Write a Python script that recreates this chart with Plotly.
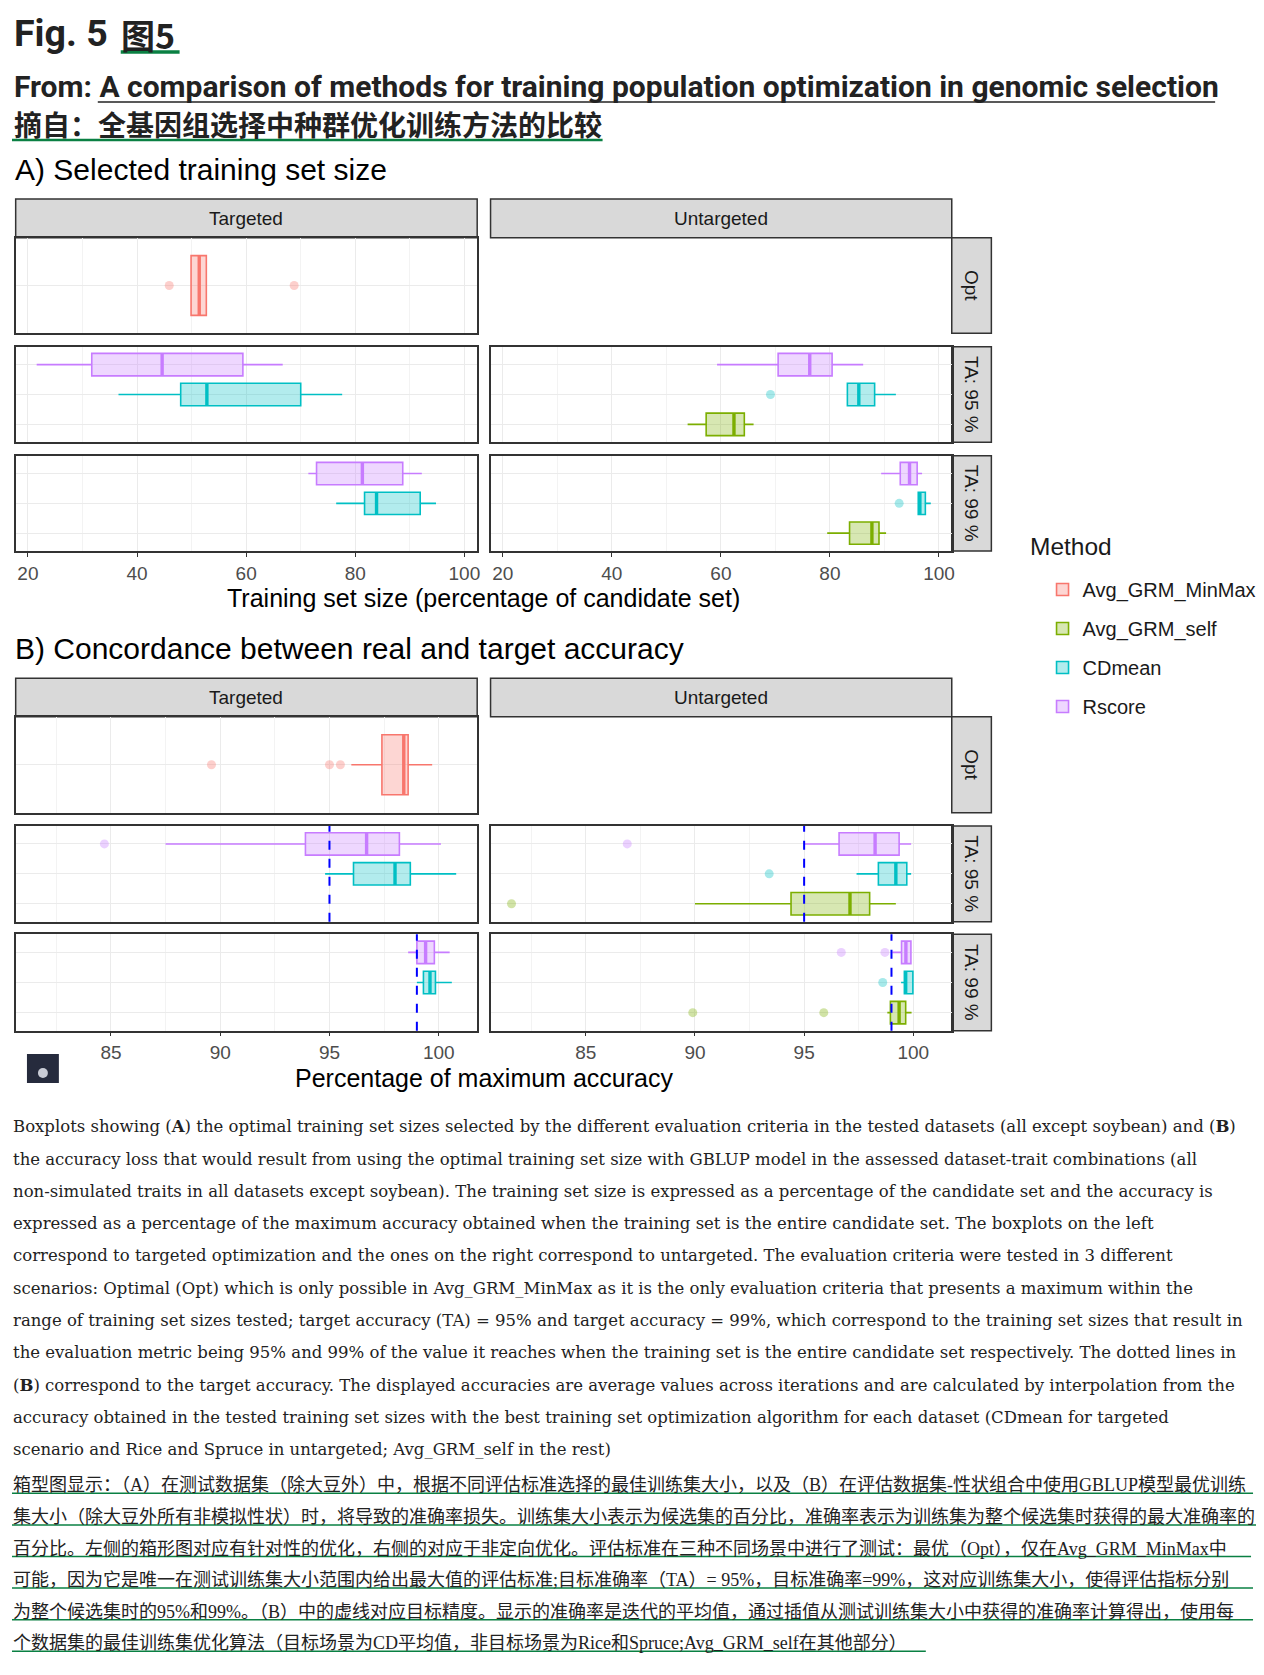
import plotly.graph_objects as go

# ---------------------------------------------------------------------------
# Data
# ---------------------------------------------------------------------------

METHODS = ["Avg_GRM_MinMax", "Avg_GRM_self", "CDmean", "Rscore"]
SIDES = ["Targeted", "Untargeted"]
SCENARIOS = ["Opt", "TA: 95 %", "TA: 99 %"]
TARGETS = [None, 95, 99]  # target accuracy per scenario (dashed lines in B)

# A) training set size, box stats: low whisker, q1, median, q3, high whisker
A_SIDE = ["Targeted", "Targeted", "Targeted", "Targeted", "Targeted",
          "Untargeted", "Untargeted", "Untargeted", "Untargeted", "Untargeted", "Untargeted"]
A_SCEN = ["Opt", "TA: 95 %", "TA: 95 %", "TA: 99 %", "TA: 99 %",
          "TA: 95 %", "TA: 95 %", "TA: 95 %", "TA: 99 %", "TA: 99 %", "TA: 99 %"]
A_METHOD = ["Avg_GRM_MinMax", "Rscore", "CDmean", "Rscore", "CDmean",
            "Rscore", "CDmean", "Avg_GRM_self", "Rscore", "CDmean", "Avg_GRM_self"]
A_LOW = [49.9, 21.6, 36.6, 71.4, 76.5, 59.3, 83.2, 53.9, 89.4, 96.2, 79.5]
A_Q1 = [49.9, 31.7, 48.0, 72.9, 81.7, 70.5, 83.2, 57.3, 92.9, 96.2, 83.6]
A_MED = [51.4, 44.6, 52.8, 81.3, 83.9, 76.3, 85.3, 62.4, 94.6, 96.5, 87.7]
A_Q3 = [52.7, 59.4, 70.0, 88.7, 91.9, 80.4, 88.2, 64.3, 96.0, 97.5, 89.0]
A_HIGH = [52.7, 66.7, 77.6, 92.2, 94.8, 86.1, 92.1, 66.0, 96.9, 98.5, 90.3]

A_OUT_SIDE = ["Targeted", "Targeted", "Untargeted", "Untargeted"]
A_OUT_SCEN = ["Opt", "Opt", "TA: 95 %", "TA: 99 %"]
A_OUT_METHOD = ["Avg_GRM_MinMax", "Avg_GRM_MinMax", "CDmean", "CDmean"]
A_OUT_X = [45.9, 68.8, 69.1, 92.7]

# B) percentage of maximum accuracy
B_SIDE = A_SIDE
B_SCEN = A_SCEN
B_METHOD = A_METHOD
B_LOW = [96.0, 87.5, 94.8, 98.6, 99.0, 95.0, 97.4, 90.0, 99.04, 99.44, 98.81]
B_Q1 = [97.4, 93.9, 96.1, 99.0, 99.3, 96.6, 98.4, 94.4, 99.46, 99.59, 98.95]
B_MED = [98.4, 96.7, 98.0, 99.4, 99.6, 98.25, 99.2, 97.1, 99.66, 99.65, 99.35]
B_Q3 = [98.6, 98.2, 98.7, 99.8, 99.85, 99.35, 99.7, 98.0, 99.89, 99.98, 99.65]
B_HIGH = [99.7, 100.1, 100.8, 100.5, 100.6, 99.9, 99.9, 99.2, 99.92, 99.98, 99.92]

B_OUT_SIDE = ["Targeted", "Targeted", "Targeted", "Targeted", "Untargeted", "Untargeted",
              "Untargeted", "Untargeted", "Untargeted", "Untargeted", "Untargeted", "Untargeted"]
B_OUT_SCEN = ["Opt", "Opt", "Opt", "TA: 95 %", "TA: 95 %", "TA: 95 %",
              "TA: 95 %", "TA: 99 %", "TA: 99 %", "TA: 99 %", "TA: 99 %", "TA: 99 %"]
B_OUT_METHOD = ["Avg_GRM_MinMax", "Avg_GRM_MinMax", "Avg_GRM_MinMax", "Rscore", "Rscore", "CDmean",
                "Avg_GRM_self", "Rscore", "Rscore", "CDmean", "Avg_GRM_self", "Avg_GRM_self"]
B_OUT_X = [89.6, 95.0, 95.5, 84.7, 86.9, 93.4, 81.6, 96.7, 98.7, 98.6, 89.9, 95.9]

# ---------------------------------------------------------------------------
# Text
# ---------------------------------------------------------------------------

CAPTION_EN = [
    "Boxplots showing (<b>A</b>) the optimal training set sizes selected by the different evaluation criteria in the tested datasets (all except soybean) and (<b>B</b>)",
    "the accuracy loss that would result from using the optimal training set size with GBLUP model in the assessed dataset-trait combinations (all",
    "non-simulated traits in all datasets except soybean). The training set size is expressed as a percentage of the candidate set and the accuracy is",
    "expressed as a percentage of the maximum accuracy obtained when the training set is the entire candidate set. The boxplots on the left",
    "correspond to targeted optimization and the ones on the right correspond to untargeted. The evaluation criteria were tested in 3 different",
    "scenarios: Optimal (Opt) which is only possible in Avg_GRM_MinMax as it is the only evaluation criteria that presents a maximum within the",
    "range of training set sizes tested; target accuracy (TA) = 95% and target accuracy = 99%, which correspond to the training set sizes that result in",
    "the evaluation metric being 95% and 99% of the value it reaches when the training set is the entire candidate set respectively. The dotted lines in",
    "(<b>B</b>) correspond to the target accuracy. The displayed accuracies are average values across iterations and are calculated by interpolation from the",
    "accuracy obtained in the tested training set sizes with the best training set optimization algorithm for each dataset (CDmean for targeted",
    "scenario and Rice and Spruce in untargeted; Avg_GRM_self in the rest)",
]
CAPTION_ZH = [
    "箱型图显示：（A）在测试数据集（除大豆外）中，根据不同评估标准选择的最佳训练集大小，以及（B）在评估数据集-性状组合中使用GBLUP模型最优训练",
    "集大小（除大豆外所有非模拟性状）时，将导致的准确率损失。训练集大小表示为候选集的百分比，准确率表示为训练集为整个候选集时获得的最大准确率的",
    "百分比。左侧的箱形图对应有针对性的优化，右侧的对应于非定向优化。评估标准在三种不同场景中进行了测试：最优（Opt），仅在Avg_GRM_MinMax中",
    "可能，因为它是唯一在测试训练集大小范围内给出最大值的评估标准;目标准确率（TA）= 95%，目标准确率=99%，这对应训练集大小，使得评估指标分别",
    "为整个候选集时的95%和99%。（B）中的虚线对应目标精度。显示的准确率是迭代的平均值，通过插值从测试训练集大小中获得的准确率计算得出，使用每",
    "个数据集的最佳训练集优化算法（目标场景为CD平均值，非目标场景为Rice和Spruce;Avg_GRM_self在其他部分）",
]
ZH_UNDERLINE_END = [1256, 1260, 1254, 1256, 1256, 928]

# ---------------------------------------------------------------------------
# Layout helpers (pixel positions on the page)
# ---------------------------------------------------------------------------

W, H = 1264, 1675
PAGE_MARGIN = 8  # the html body margin shifts the plot by this much
COLORS = {"Avg_GRM_MinMax": "#F8766D", "Avg_GRM_self": "#7CAE00",
          "CDmean": "#00BFC4", "Rscore": "#C77CFF"}
TA_POS = {"Avg_GRM_self": 1, "CDmean": 2, "Rscore": 3}
GREEN = "#0a8043"
FONT = "Liberation Sans, Arial, sans-serif"
INK = "#222222"

COL_X = [(15.7, 478.3), (491.7, 954.0)]
ROW_Y = {"A": [(237.7, 333.3), (346.7, 442.3), (455.7, 551.0)],
         "B": [(716.7, 812.7), (826.0, 921.7), (934.3, 1030.7)]}
STRIP_TOP = {"A": 199.0, "B": 678.3}
RSTRIP_X = (954.0, 993.7)


def fx(px):
    return (px - PAGE_MARGIN) / W


def fy(py):
    return 1 - (py - PAGE_MARGIN) / H


def rgba(hex_color, a):
    h = hex_color.lstrip("#")
    r, g, b = int(h[0:2], 16), int(h[2:4], 16), int(h[4:6], 16)
    return f"rgba({r},{g},{b},{a})"


def axis_id(sec, side, scen):
    return (0 if sec == "A" else 6) + SCENARIOS.index(scen) * 2 + SIDES.index(side) + 1


def ref(n):
    return ("x" if n == 1 else f"x{n}"), ("y" if n == 1 else f"y{n}")


def box_pos(scen, method):
    return 1 if scen == "Opt" else TA_POS[method]


fig = go.Figure()
seen = set()

sections = {
    "A": (A_SIDE, A_SCEN, A_METHOD, A_LOW, A_Q1, A_MED, A_Q3, A_HIGH,
          A_OUT_SIDE, A_OUT_SCEN, A_OUT_METHOD, A_OUT_X, 20, 10),
    "B": (B_SIDE, B_SCEN, B_METHOD, B_LOW, B_Q1, B_MED, B_Q3, B_HIGH,
          B_OUT_SIDE, B_OUT_SCEN, B_OUT_METHOD, B_OUT_X, 5, 2.5),
}

layout_axes = {}
for sec, (sides, scens, methods, lo, q1, med, q3, hi,
          o_side, o_scen, o_method, o_x, dtick, mdtick) in sections.items():
    vmin = min(lo + o_x)
    vmax = max(hi + o_x)
    pad = 0.05 * (vmax - vmin)
    xrange = [vmin - pad, vmax + pad]

    for i in range(len(sides)):
        n = axis_id(sec, sides[i], scens[i])
        xr, yr = ref(n)
        m = methods[i]
        p = box_pos(scens[i], m)
        show = m not in seen
        seen.add(m)
        fig.add_trace(go.Box(
            orientation="h", y=[p], q1=[q1[i]], median=[med[i]], q3=[q3[i]],
            lowerfence=[lo[i]], upperfence=[hi[i]], width=0.75, whiskerwidth=0,
            boxpoints=False, fillcolor=rgba(COLORS[m], 0.3),
            line={"color": COLORS[m], "width": 1.6}, name=m, legendgroup=m,
            legendrank=METHODS.index(m), showlegend=show, hoverinfo="skip",
            xaxis=xr, yaxis=yr,
        ))
        # ggplot draws a fattened median line
        fig.add_trace(go.Scatter(
            x=[med[i], med[i]], y=[p - 0.375, p + 0.375], mode="lines",
            line={"color": COLORS[m], "width": 3.4}, showlegend=False,
            hoverinfo="skip", xaxis=xr, yaxis=yr,
        ))

    for j in range(len(o_x)):
        n = axis_id(sec, o_side[j], o_scen[j])
        xr, yr = ref(n)
        m = o_method[j]
        fig.add_trace(go.Scatter(
            x=[o_x[j]], y=[box_pos(o_scen[j], m)], mode="markers",
            marker={"color": COLORS[m], "size": 9, "opacity": 0.35},
            showlegend=False, hoverinfo="skip", xaxis=xr, yaxis=yr,
        ))

    for r, scen in enumerate(SCENARIOS):
        py0, py1 = ROW_Y[sec][r]
        for c, side in enumerate(SIDES):
            n = axis_id(sec, side, scen)
            key = "" if n == 1 else str(n)
            bottom = r == 2
            layout_axes[f"xaxis{key}"] = dict(
                domain=[fx(COL_X[c][0]), fx(COL_X[c][1])], anchor=f"y{key}",
                range=xrange, dtick=dtick, tick0=0, showgrid=True,
                gridcolor="#EBEBEB", gridwidth=1.3, zeroline=False,
                minor=dict(dtick=mdtick, tick0=0, showgrid=True,
                           gridcolor="#F3F3F3", gridwidth=0.8),
                showline=True, mirror=True, linecolor="#333333", linewidth=1.5,
                ticks="outside" if bottom else "", ticklen=4, tickwidth=1.3,
                tickcolor="#333333", showticklabels=bottom,
                tickfont=dict(size=19, color="#4D4D4D", family=FONT),
            )
            nlev = 1 if scen == "Opt" else 3
            layout_axes[f"yaxis{key}"] = dict(
                domain=[fy(py1), fy(py0)], anchor=f"x{key}", type="linear",
                range=[0.4, nlev + 0.6], tickvals=list(range(1, nlev + 1)),
                showticklabels=False, ticks="", showgrid=True,
                gridcolor="#EBEBEB", gridwidth=1.3, zeroline=False,
                showline=True, mirror=True, linecolor="#333333", linewidth=1.5,
            )
            if sec == "B" and TARGETS[r] is not None:
                xr, yr = ref(n)
                fig.add_shape(type="line", x0=TARGETS[r], x1=TARGETS[r], y0=0, y1=1,
                              xref=xr, yref=f"{yr} domain",
                              line=dict(color="#0000FF", width=2, dash="dash"))

fig.update_layout(**layout_axes)

shapes = []
annotations = []


def label(text, px, py, size, family=FONT, color="black", xanchor="left", angle=0, height=None):
    annotations.append(dict(x=fx(px), y=fy(py), text=text, showarrow=False, xref="paper",
                            yref="paper", xanchor=xanchor, yanchor="middle", textangle=angle,
                            height=height, font=dict(size=size, color=color, family=family)))


def hline(x0, x1, py, color, width):
    shapes.append(dict(type="line", xref="paper", yref="paper", x0=fx(x0), x1=fx(x1),
                       y0=fy(py), y1=fy(py), line=dict(color=color, width=width)))


def strip(x0, x1, y0, y1):
    shapes.append(dict(type="rect", xref="paper", yref="paper",
                       x0=fx(x0), x1=fx(x1), y0=fy(y1), y1=fy(y0),
                       fillcolor="#D9D9D9", line=dict(color="#333333", width=1.5), layer="below"))


# facet strips
for sec in ["A", "B"]:
    top = STRIP_TOP[sec]
    ptop = ROW_Y[sec][0][0]
    for c, side in enumerate(SIDES):
        strip(COL_X[c][0], COL_X[c][1], top, ptop)
        label(side, (COL_X[c][0] + COL_X[c][1]) / 2, (top + ptop) / 2, 19,
              color="#1A1A1A", xanchor="center")
    for r, scen in enumerate(SCENARIOS):
        py0, py1 = ROW_Y[sec][r]
        strip(RSTRIP_X[0], RSTRIP_X[1], py0, py1)
        label(scen, sum(RSTRIP_X) / 2, (py0 + py1) / 2, 19,
              color="#1A1A1A", xanchor="center", angle=90)

# section titles and axis titles
label("A) Selected training set size", 13, 170, 30)
label("B) Concordance between real and target accuracy", 13, 649, 30)
label("Training set size (percentage of candidate set)", 485, 598, 25, xanchor="center")
label("Percentage of maximum accuracy", 485, 1078, 25, xanchor="center")
label("Method", 1030, 546.7, 24.5, color="#1A1A1A")

# page header
HEAD = "Roboto, Noto Sans, sans-serif"
CJK_BOLD = "Noto Sans CJK SC"
label("<b>Fig. 5</b>", 12, 33, 37.5, family=HEAD, color=INK)
label("<b>图5</b>", 119, 34, 34, family=CJK_BOLD, color=INK)
hline(121, 180, 52, GREEN, 3.5)
label("<b>From: A comparison of methods for training population optimization in genomic selection</b>",
      12, 86, 30, family=HEAD, color=INK, height=36)
hline(98, 1218, 102, INK, 1.5)
label("<b>摘自：全基因组选择中种群优化训练方法的比较</b>", 12, 124, 28, family=CJK_BOLD,
      color=INK, height=32)
hline(12, 604, 140, GREEN, 2.5)

# captions
for k, line in enumerate(CAPTION_EN):
    label(line, 11, 1126.7 + 32.3 * k, 16.5, family="DejaVu Serif, serif", color=INK)
for k, line in enumerate(CAPTION_ZH):
    yc = 1485.3 + 31.6 * k
    label(line, 11, yc, 18, family="Liberation Serif, Noto Sans CJK SC", color=INK)
    hline(12, ZH_UNDERLINE_END[k], yc + 8, GREEN, 1.5)

# small overlay badge at bottom-left of panel B
shapes.append(dict(type="rect", xref="paper", yref="paper", x0=fx(27), x1=fx(59),
                   y0=fy(1083), y1=fy(1054), fillcolor="#262B3D", line=dict(width=0)))
shapes.append(dict(type="circle", xref="paper", yref="paper", x0=fx(38), x1=fx(48),
                   y0=fy(1078), y1=fy(1068), fillcolor="#C9CCD6", line=dict(width=0)))

fig.update_layout(
    shapes=list(fig.layout.shapes) + shapes,
    annotations=annotations,
    width=W, height=H,
    margin=dict(l=0, r=0, t=0, b=0),
    paper_bgcolor="white", plot_bgcolor="white",
    boxmode="overlay",
    font=dict(family=FONT, color="black"),
    legend=dict(
        x=fx(1045), y=fy(570), xanchor="left", yanchor="top",
        font=dict(size=20, family=FONT, color="#1A1A1A"),
        tracegroupgap=10, bgcolor="rgba(0,0,0,0)",
    ),
)

fig.write_html("out.html")
